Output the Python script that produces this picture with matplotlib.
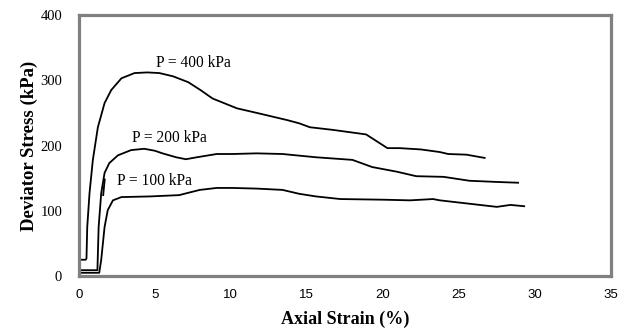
import matplotlib
matplotlib.use("Agg")
from matplotlib import pyplot as plt

# P = 400 kPa
strain_400 = [0, 0.02, 0.45, 0.5, 0.55, 0.7, 0.92, 1.25, 1.69, 2.13, 2.8, 3.66, 4.5,
              5.3, 6.2, 7.2, 8.0, 8.8, 10.4, 11.7, 13.7, 14.5, 15.2, 16.7, 18.9, 20.3,
              21.1, 22.5, 23.75, 24.3, 25.5, 26.7]
stress_400 = [0, 25, 25, 27, 75, 127, 178, 228, 265, 285, 303, 311, 312,
              311, 306, 297, 285, 272, 257, 250, 239, 234, 228, 224, 217, 196,
              196, 194, 190, 187, 186, 181]

# P = 200 kPa
strain_200 = [0, 0.02, 1.22, 1.3, 1.47, 1.69, 2.0, 2.57, 3.44, 4.3, 5.0, 5.5, 6.4,
              7.04, 7.76, 9.07, 10.1, 11.7, 13.4, 15.6, 18.0, 19.3, 20.9, 22.2, 24.0,
              25.7, 27.7, 28.9]
stress_200 = [0, 9, 9, 75, 127, 158, 173, 185, 193, 195, 192, 188, 182,
              179, 182, 187, 187, 188, 187, 182, 178, 167, 160, 153, 152,
              146, 144, 143]
hook_strain = [1.6, 1.65, 1.7]
hook_stress = [124, 136, 148]

# P = 100 kPa
strain_100 = [0, 0.02, 1.34, 1.47, 1.69, 1.9, 2.24, 2.8, 4.67, 6.6, 7.1, 7.96, 9.07,
              10.1, 11.7, 13.4, 14.5, 15.6, 17.2, 20.0, 21.8, 23.3, 23.75, 27.5, 28.4, 29.3]
stress_100 = [0, 5, 5, 25, 75, 101, 116, 121, 122, 124, 127, 132, 135,
              135, 134, 132, 126, 122, 118, 117, 116, 118, 116, 106, 109, 107]

labels = ["P = 400 kPa", "P = 200 kPa", "P = 100 kPa"]
label_pos = [(5.1, 326), (3.5, 211), (2.5, 146)]

x_ticks = [0, 5, 10, 15, 20, 25, 30, 35]
y_ticks = [0, 100, 200, 300, 400]

fig = plt.figure(figsize=(6.31, 3.33), dpi=100)
ax = fig.add_axes([0.125, 0.171, 0.843, 0.784])

ax.plot(strain_400, stress_400, color="black", lw=1.3)
ax.plot(strain_200, stress_200, color="black", lw=1.3)
ax.plot(hook_strain, hook_stress, color="black", lw=1.3)
ax.plot(strain_100, stress_100, color="black", lw=1.3)

for txt, (px, py) in zip(labels, label_pos):
    ax.text(px, py, txt, fontsize=11.2, family="Liberation Serif", va="center", ha="left")

ax.set_xlim(0, 35)
ax.set_ylim(0, 400)
ax.set_xticks(x_ticks)
ax.set_yticks(y_ticks)
ax.set_xticklabels([str(v) for v in x_ticks], family="Liberation Sans", fontsize=9.5)
ax.set_yticklabels([str(v) for v in y_ticks], family="Liberation Serif", fontsize=10.5)
ax.tick_params(length=0)
ax.tick_params(axis="x", pad=9)
ax.tick_params(axis="y", pad=12)

for s in ax.spines.values():
    s.set_color("#808080")
    s.set_linewidth(2.3)

ax.set_xlabel("Axial Strain (%)", family="Liberation Serif", fontweight="bold", fontsize=13, labelpad=7)
ax.set_ylabel("Deviator Stress (kPa)", family="Liberation Serif", fontweight="bold", fontsize=13.5, labelpad=2)

fig.savefig("out.png", dpi=100)
